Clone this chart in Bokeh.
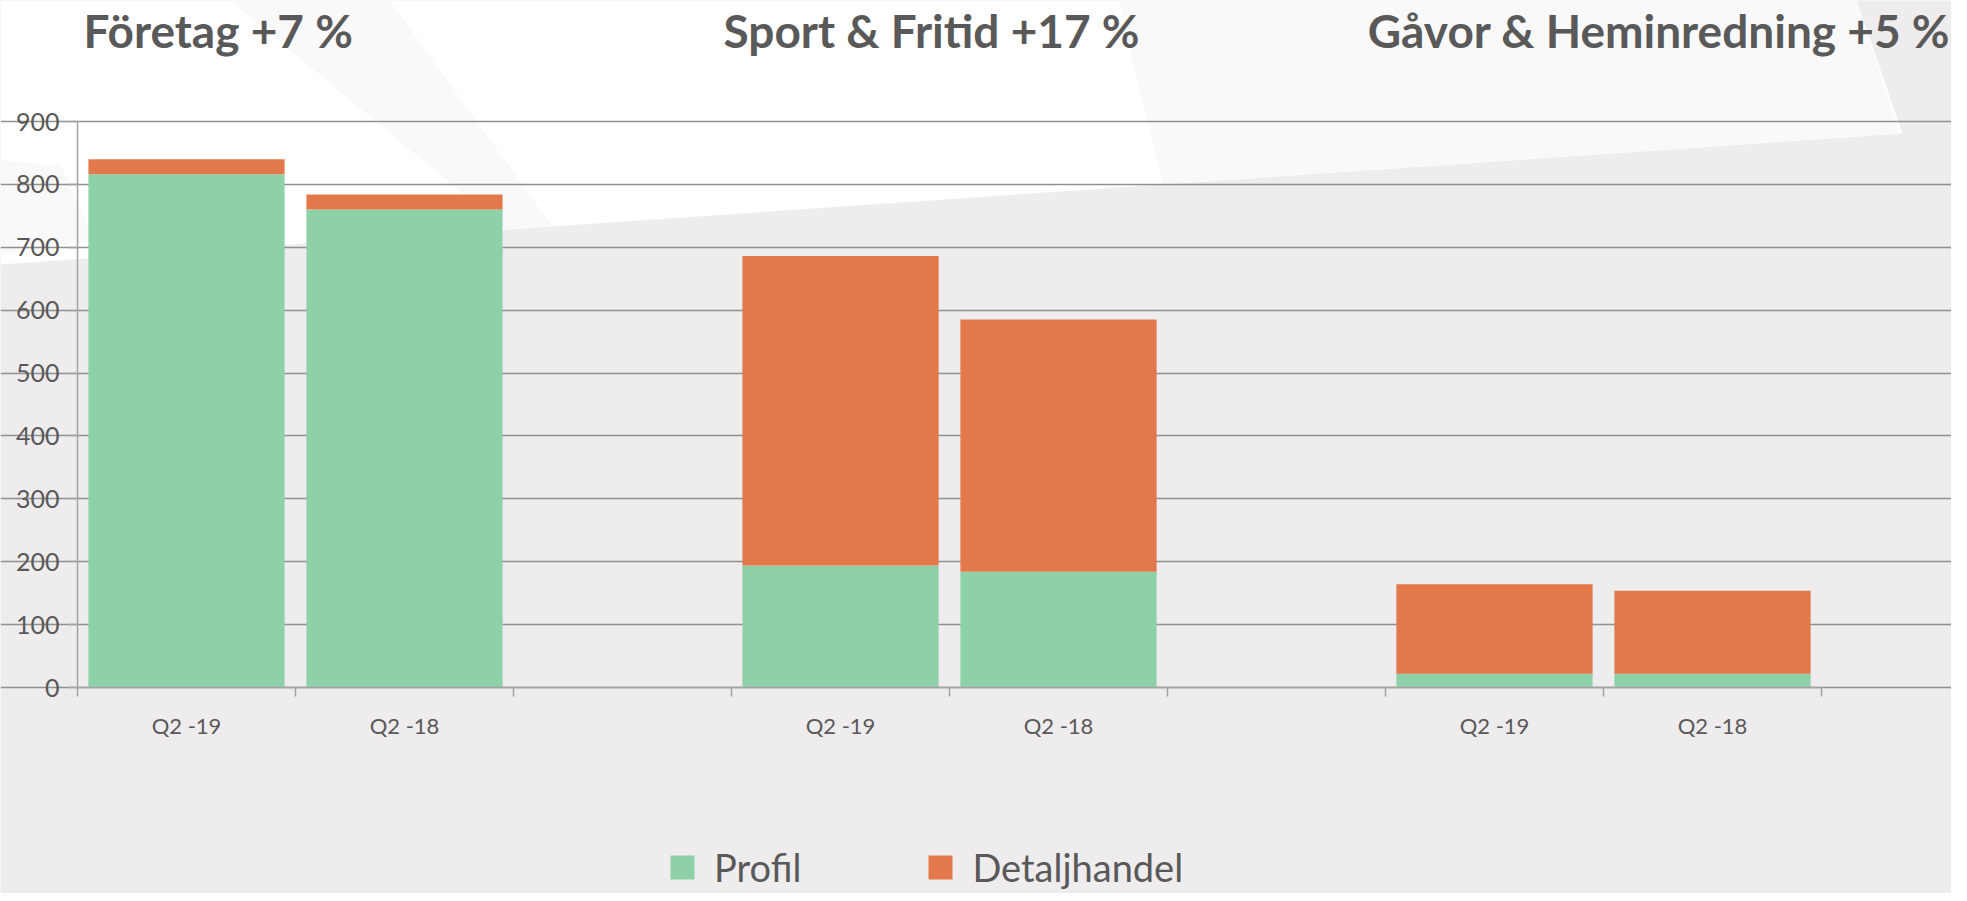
from bokeh.plotting import figure
from bokeh.models import (Range1d, FixedTicker, Label, PolyAnnotation, Legend,
                          LegendItem, ColumnDataSource)
from bokeh.embed import file_html
from bokeh.resources import INLINE

# ---- data ----
groups = ["Företag +7 %", "Sport & Fritid +17 %", "Gåvor & Heminredning +5 %"]
periods = ["Q2 -19", "Q2 -18"]
profil = [816, 760, 194, 184, 22, 22]
detaljhandel = [24, 24, 492, 401, 142, 132]
y_ticks = [0, 100, 200, 300, 400, 500, 600, 700, 800, 900]

# ---- style ----
GREEN = "#8ED1A9"
ORANGE = "#E3794A"
TEXT = "#595959"
BG = "#EEECED"
GRID = "#909090"
AXIS = "#A3A3A3"
TEXTURE = "#F9F9F9"
FONT = "Lato"

SLOTS = 3  # two bars + one empty slot per group
xs = [g * SLOTS + i for g in range(len(groups)) for i in range(len(periods))]
labels = [periods[i] for g in range(len(groups)) for i in range(len(periods))]
n_slots = SLOTS * len(groups) - 1
boundaries = [k - 0.5 for k in range(n_slots + 1)]
Y_MAX = y_ticks[-1]

src = ColumnDataSource(dict(x=xs, label=labels, Profil=profil, Detaljhandel=detaljhandel))

# ---- pixel layout: the plotting area (axes box) inside a full-canvas frame ----
W, H = 1951, 893
AX_L, AX_R, AX_T, AX_B = 77, 1821, 121, 687
x0, x1 = -0.5, n_slots - 0.5
px_per_x = (AX_R - AX_L) / (x1 - x0)
px_per_y = (AX_B - AX_T) / Y_MAX
xr = Range1d(x0 - AX_L / px_per_x, x1 + (W - AX_R) / px_per_x)
yr = Range1d(-(H - AX_B) / px_per_y, Y_MAX + AX_T / px_per_y)

p = figure(width=W, height=H, output_backend="svg", toolbar_location=None,
           x_range=xr, y_range=yr,
           min_border_left=0, min_border_right=0, min_border_top=0,
           min_border_bottom=0)
p.background_fill_color = BG
p.border_fill_color = BG
p.outline_line_color = None

# background shapes (canvas pixels)
p.add_layout(PolyAnnotation(xs=[0, 1856, 1902, 0], ys=[0, 0, 133, 264],
                            xs_units="canvas", ys_units="canvas",
                            fill_color="white", fill_alpha=1, line_color=None,
                            level="image"))
for pxs, pys in [([230, 389, 552, 505], [0, 0, 226, 229]),
                 ([1118, 1856, 1899, 1162], [0, 0, 133, 184]),
                 ([0, 60, 95, 0], [160, 165, 240, 254])]:
    p.add_layout(PolyAnnotation(xs=pxs, ys=pys, xs_units="canvas", ys_units="canvas",
                                fill_color=TEXTURE, fill_alpha=1, line_color=None,
                                level="image"))

# grid
ytick = FixedTicker(ticks=y_ticks, minor_ticks=[])
p.yaxis.ticker = ytick
p.ygrid.ticker = ytick
p.ygrid.grid_line_color = GRID
p.ygrid.grid_line_width = 1.4
p.ygrid.bounds = (x0, x1)
p.xgrid.grid_line_color = None

# y axis
ya = p.yaxis[0]
ya.fixed_location = x0
ya.bounds = (0, Y_MAX)
ya.axis_line_color = AXIS
ya.axis_line_width = 1.5
ya.major_tick_line_color = AXIS
ya.major_tick_line_width = 1.5
ya.major_tick_out = 9
ya.major_tick_in = 0
ya.minor_tick_line_color = None
ya.major_label_text_font = FONT
ya.major_label_text_font_size = "25px"
ya.major_label_text_color = TEXT
ya.major_label_standoff = 9

# x axis
xa = p.xaxis[0]
xa.fixed_location = 0
xa.bounds = (x0, x1)
xa.ticker = FixedTicker(ticks=xs, minor_ticks=boundaries)
xa.major_label_overrides = {x: lab for x, lab in zip(xs, labels)}
xa.axis_line_color = AXIS
xa.axis_line_width = 1.5
xa.major_tick_line_color = None
xa.major_tick_out = 0
xa.major_tick_in = 0
xa.minor_tick_line_color = AXIS
xa.minor_tick_line_width = 1.5
xa.minor_tick_out = 9
xa.minor_tick_in = 0
xa.major_label_text_font = FONT
xa.major_label_text_font_size = "22px"
xa.major_label_text_color = TEXT
xa.major_label_standoff = 15

# bars
rs = p.vbar_stack(["Profil", "Detaljhandel"], x="x", width=0.9, source=src,
                  fill_color=[GREEN, ORANGE], line_color=None)

legend = Legend(items=[LegendItem(label="Profil", renderers=[rs[0]]),
                       LegendItem(label="Detaljhandel", renderers=[rs[1]])],
                orientation="horizontal", location=(667, 3),
                glyph_width=30, glyph_height=30, label_standoff=17, spacing=124,
                padding=0, margin=0, border_line_color=None,
                background_fill_alpha=0,
                label_text_font=FONT, label_text_font_size="38px",
                label_text_color=TEXT)
p.add_layout(legend, "center")

# group titles
title_pos = [(83, "left"), (723, "left"), (1950, "right")]
for name, (tx, align) in zip(groups, title_pos):
    p.add_layout(Label(x=tx, y=30, x_units="canvas", y_units="canvas", text=name,
                       text_font=FONT, text_font_style="bold", text_font_size="46px",
                       text_color=TEXT, text_align=align, text_baseline="alphabetic"))

open("out.html", "w").write(file_html(p, INLINE))
